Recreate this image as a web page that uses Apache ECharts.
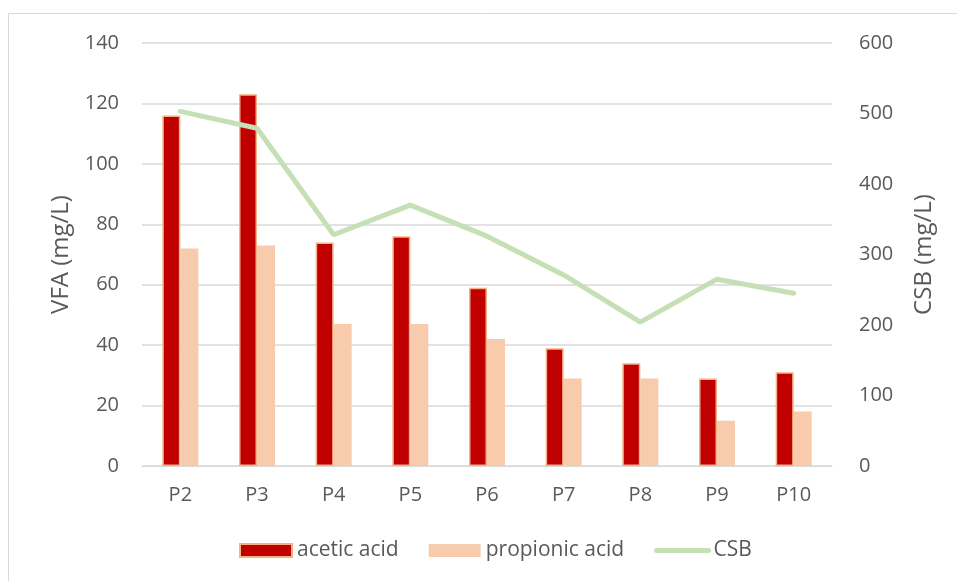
<!DOCTYPE html>
<html>
<head>
<meta charset="utf-8">
<script src="https://cdn.jsdelivr.net/npm/echarts@6/dist/echarts.min.js"></script>
<style>
  html, body { margin: 0; padding: 0; background: #fff; }
  #chart { width: 957px; height: 581px; }
</style>
</head>
<body>
<div id="chart"></div>
<script>
// data
var categories = ['P2', 'P3', 'P4', 'P5', 'P6', 'P7', 'P8', 'P9', 'P10'];
var acetic = [116, 123, 74, 76, 59, 39, 34, 29, 31];
var propionic = [72, 73, 47, 47, 42, 29, 29, 15, 18];
var csb = [503, 479, 328, 370, 326, 271, 204, 265, 245];

var myChart = echarts.init(document.getElementById('chart'));
var tickFont = { color: '#595959', fontSize: 20, fontFamily: 'Open Sans' };
var titleFont = { color: '#595959', fontSize: 24, fontFamily: 'Open Sans' };

var option = {
    animation: false,
    backgroundColor: '#fff',
    graphic: [{
        type: 'rect',
        shape: { x: 8.5, y: 13.5, width: 980, height: 600 },
        style: { fill: 'none', stroke: '#D9D9D9', lineWidth: 1 },
        silent: true
    }],
    grid: { left: 142, right: 125, top: 43, bottom: 115 },
    legend: {
        top: 540,
        left: 239,
        padding: 0,
        itemGap: 30,
        itemWidth: 52,
        itemHeight: 13,
        textStyle: { color: '#595959', fontSize: 21, fontFamily: 'Open Sans' },
        data: [
            { name: 'acetic acid', icon: 'rect' },
            { name: 'propionic acid', icon: 'rect' },
            {
                name: 'CSB',
                itemStyle: { color: 'rgba(0,0,0,0)', borderWidth: 0 },
                lineStyle: { color: '#C5E0B4', width: 5, cap: 'round' }
            }
        ]
    },
    xAxis: {
        type: 'category',
        data: categories,
        axisLine: { lineStyle: { color: '#D9D9D9', width: 1 } },
        axisTick: { show: false },
        axisLabel: Object.assign({ margin: 19 }, tickFont)
    },
    yAxis: [{
        type: 'value',
        min: 0, max: 140, interval: 20,
        name: 'VFA (mg/L)',
        nameLocation: 'middle',
        nameGap: 69,
        nameRotate: 90,
        nameTextStyle: titleFont,
        axisLine: { show: false },
        axisTick: { show: false },
        axisLabel: Object.assign({ margin: 23 }, tickFont),
        splitLine: { lineStyle: { color: '#D9D9D9', width: 1.5 } }
    }, {
        type: 'value',
        min: 0, max: 600, interval: 100,
        name: 'CSB (mg/L)',
        nameLocation: 'middle',
        nameGap: 80,
        nameRotate: 90,
        nameTextStyle: titleFont,
        axisLine: { show: false },
        axisTick: { show: false },
        axisLabel: Object.assign({ margin: 27 }, tickFont),
        splitLine: { show: false }
    }],
    series: [{
        name: 'acetic acid',
        type: 'bar',
        data: acetic,
        barWidth: 18,
        barGap: '0%',
        itemStyle: { color: '#C00000', borderColor: '#F4B183', borderWidth: 1.5 }
    }, {
        name: 'propionic acid',
        type: 'bar',
        data: propionic,
        barWidth: 18,
        barGap: '0%',
        itemStyle: { color: '#F8CBAD' }
    }, {
        name: 'CSB',
        type: 'line',
        yAxisIndex: 1,
        data: csb,
        symbol: 'none',
        lineStyle: { color: '#C5E0B4', width: 5, cap: 'round' },
        itemStyle: { color: '#C5E0B4' }
    }]
};
myChart.setOption(option);
</script>
</body>
</html>
